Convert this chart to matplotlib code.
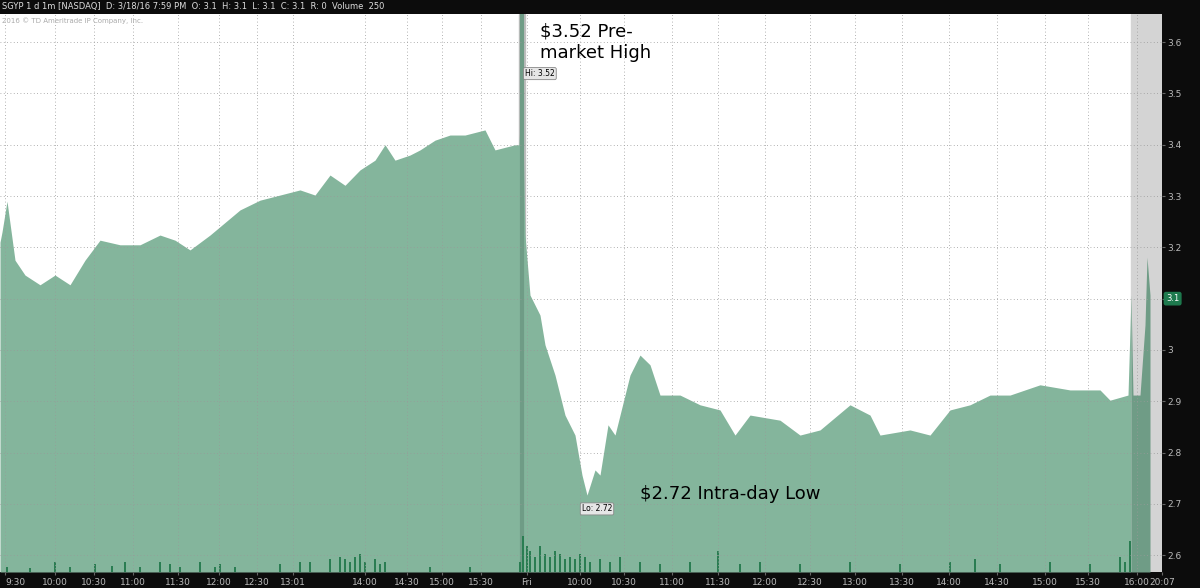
import matplotlib
matplotlib.use("Agg")
import matplotlib.pyplot as plt
import numpy as np

# chart timeline position (compressed session axis units) and price
pos = [0, 2, 7, 15, 25, 40, 55, 70, 85, 100, 120, 140, 160, 175, 190, 210, 240, 260, 280, 300, 315,
       330, 345, 360, 375, 385, 395, 410, 420, 435, 450, 465, 485, 495, 515, 519, 522, 525, 530, 540,
       545, 555, 565, 575, 582, 587, 595, 600, 608, 615, 620, 630, 640, 650, 660, 680, 700, 720, 735,
       750, 780, 800, 820, 850, 870, 880, 910, 930, 950, 970, 990, 1010, 1040, 1070, 1100, 1110, 1128,
       1131, 1133, 1140, 1145, 1147, 1150]
price = [3.21, 3.23, 3.29, 3.175, 3.146, 3.127, 3.146, 3.127, 3.175, 3.214, 3.205, 3.205, 3.224, 3.214,
         3.195, 3.224, 3.273, 3.292, 3.302, 3.312, 3.302, 3.341, 3.321, 3.351, 3.370, 3.400, 3.370,
         3.380, 3.390, 3.409, 3.419, 3.419, 3.429, 3.390, 3.400, 3.40, 3.526, 3.224, 3.107, 3.068,
       3.010, 2.951, 2.873, 2.834, 2.756, 2.717, 2.766, 2.756, 2.854, 2.834, 2.873, 2.951, 2.990, 2.971,
       2.912, 2.912, 2.893, 2.883, 2.834, 2.873, 2.863, 2.834, 2.844, 2.893, 2.873, 2.834, 2.844,
       2.834, 2.883, 2.893, 2.912, 2.912, 2.932, 2.922, 2.922, 2.902, 2.912, 3.107, 2.912, 2.912,
       3.049, 3.181, 3.107]
vol_pos = [7, 30, 55, 70, 95, 112, 125, 140, 160, 170, 180, 200, 215, 220, 235, 280, 300, 310, 330,
           340, 345, 350, 355, 360, 365, 375, 380, 385, 430, 470, 520, 523, 527, 530, 535, 540, 545,
           550, 555, 560, 565, 570, 575, 580, 585, 590, 600, 610, 620, 640, 660, 690, 718, 740, 760,
           800, 850, 900, 950, 975, 1000, 1050, 1090, 1120, 1125, 1130]
vol_h = [0.01, 0.008, 0.02, 0.01, 0.015, 0.012, 0.02, 0.01, 0.02, 0.015, 0.01, 0.02, 0.01, 0.015, 0.01,
         0.015, 0.02, 0.02, 0.025, 0.03, 0.025, 0.02, 0.03, 0.035, 0.02, 0.025, 0.015, 0.02, 0.01, 0.01,
         0.02, 0.07, 0.05, 0.04, 0.03, 0.05, 0.035, 0.03, 0.04, 0.035, 0.025, 0.03, 0.025, 0.035,
         0.03, 0.02, 0.025, 0.02, 0.03, 0.02, 0.015, 0.02, 0.04, 0.015, 0.02, 0.015, 0.02, 0.015,
         0.02, 0.025, 0.015, 0.02, 0.015, 0.03, 0.02, 0.06]
xtick_pos = [5, 55, 94, 133, 178, 219, 257, 293, 365, 407, 442, 481, 527, 580, 624, 672, 718, 765,
             810, 855, 902, 949, 997, 1045, 1088, 1137]
xtick_lab = ["9:30", "10:00", "10:30", "11:00", "11:30", "12:00", "12:30", "13:01", "14:00", "14:30",
             "15:00", "15:30", "Fri", "10:00", "10:30", "11:00", "11:30", "12:00", "12:30", "13:00",
             "13:30", "14:00", "14:30", "15:00", "15:30", "16:00"]
yticks = [2.6, 2.7, 2.8, 2.9, 3.0, 3.1, 3.2, 3.3, 3.4, 3.5, 3.6]
ylab = ["2.6", "2.7", "2.8", "2.9", "3", "", "3.2", "3.3", "3.4", "3.5", "3.6"]

fig = plt.figure(figsize=(12, 5.88), dpi=100, facecolor="#0c0c0c")
ax = fig.add_axes([0, 1 - 572/588, 1162/1200, 558/588])
ax.set_facecolor("white")
ymin, ymax = 2.567, 3.655
ax.set_xlim(0, 1162)
ax.set_ylim(ymin, ymax)
ax.axvspan(1131, 1162, color="#d4d4d4", zorder=0)
ax.axvspan(519, 525, color="#bdbdbd", zorder=0)
pos = np.array(pos); price = np.array(price)
m1 = pos <= 1131
ax.fill_between(pos[m1], ymin, price[m1], color="#84b59c", lw=0, zorder=1)
ax.fill_between(pos[pos >= 1131], ymin, price[pos >= 1131], color="#6f9c86", lw=0, zorder=1)
ax.axvline(522, color="#6f9c86", lw=3, zorder=1)
ax.bar(vol_pos, vol_h, bottom=ymin, width=1.6, color="#2a7d52", zorder=2)
for xp in xtick_pos:
    ax.axvline(xp, color="#999999", ls=(0, (1, 3)), lw=0.6, zorder=3)
for yv in yticks:
    ax.axhline(yv, color="#999999", ls=(0, (1, 3)), lw=0.6, zorder=3)
ax.set_xticks(xtick_pos + [1162])
ax.set_xticklabels(xtick_lab + ["20:07"], color="#bbbbbb", fontsize=6.5)
ax.get_xticklabels()[0].set_horizontalalignment("left")
ax.yaxis.tick_right()
ax.set_yticks(yticks)
ax.set_yticklabels(ylab, color="#bbbbbb", fontsize=6.5)
ax.tick_params(length=2, color="#666666", pad=2)
for s in ax.spines.values():
    s.set_visible(False)

ax.text(540, 3.6, "$3.52 Pre-\nmarket High", fontsize=13, va="center", ha="left", zorder=5)
ax.text(640, 2.72, "$2.72 Intra-day Low", fontsize=13, va="center", ha="left", zorder=5)
bb = dict(boxstyle="round,pad=0.2", fc="#e6e6e6", ec="#888888", lw=0.6)
ax.text(525, 3.53, "Hi: 3.52", fontsize=5.5, ha="left", va="bottom", bbox=bb, zorder=5)
ax.text(597, 2.69, "Lo: 2.72", fontsize=5.5, ha="center", va="center", bbox=bb, zorder=5)
ax.text(1166, 3.1, "3.1", fontsize=6, color="white", ha="left", va="center",
        bbox=dict(boxstyle="round,pad=0.2", fc="#1e7a4e", ec="#1e7a4e"), zorder=5, clip_on=False)
ax.text(2, 3.642, "2016 © TD Ameritrade IP Company, Inc.", fontsize=5, color="#aaaaaa", va="center")

fig.text(0.002, 0.989, "SGYP 1 d 1m [NASDAQ]  D: 3/18/16 7:59 PM  O: 3.1  H: 3.1  L: 3.1  C: 3.1  R: 0  Volume  250",
         color="#dddddd", fontsize=6, va="center")
fig.savefig("out.png", dpi=100, facecolor=fig.get_facecolor())
